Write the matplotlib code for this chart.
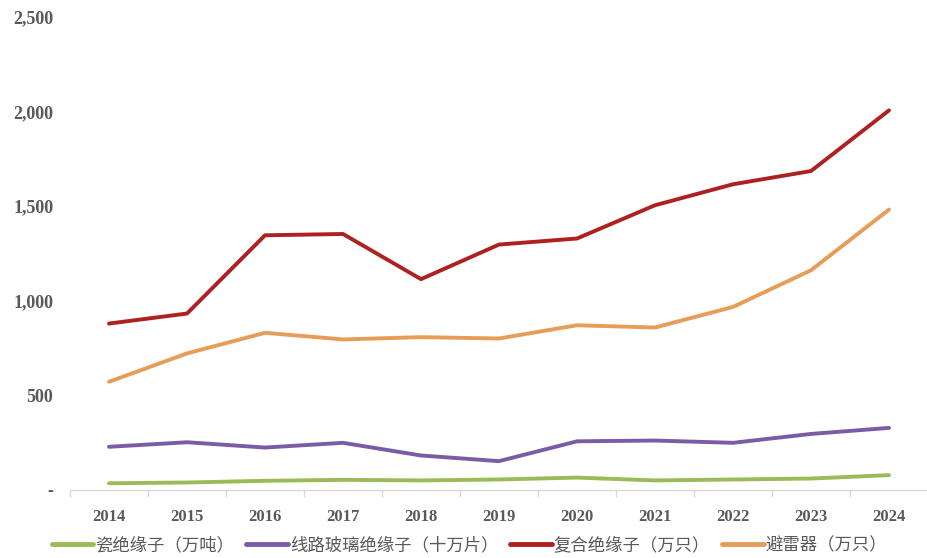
import matplotlib
matplotlib.use("Agg")
import matplotlib.pyplot as plt
from matplotlib.ticker import FuncFormatter

years = ["2014", "2015", "2016", "2017", "2018", "2019", "2020", "2021", "2022", "2023", "2024"]
porcelain = [33, 37, 46, 51, 48, 53, 63, 48, 53, 58, 76]
glass = [226, 250, 222, 247, 180, 150, 255, 259, 247, 294, 326]
composite = [878, 931, 1345, 1352, 1113, 1296, 1328, 1504, 1615, 1685, 2006]
arrester = [570, 720, 829, 794, 806, 799, 869, 857, 966, 1160, 1481]

series_names = ["瓷绝缘子（万吨）", "线路玻璃绝缘子（十万片）", "复合绝缘子（万只）", "避雷器（万只）"]
colors = ["#9BBB59", "#7B5BA6", "#AD2220", "#E59D58"]
yticks = [0, 500, 1000, 1500, 2000, 2500]

serif = ["Liberation Serif", "DejaVu Serif"]
cjk = ["Noto Sans CJK SC", "DejaVu Sans"]
grey = "#595959"

fig = plt.figure(figsize=(9.28, 5.58), dpi=100)
ax = fig.add_axes([70 / 928, 1 - 489.5 / 558, 858 / 928, (489.5 - 17) / 558])

x = list(range(len(years)))
for vals, name, c in zip([porcelain, glass, composite, arrester], series_names, colors):
    ax.plot(x, vals, color=c, lw=2.8, label=name, solid_capstyle="round", solid_joinstyle="round")

ax.set_xlim(-0.5, len(years) - 0.5)
ax.set_ylim(0, 2500)
ax.set_yticks(yticks)
ax.yaxis.set_major_formatter(FuncFormatter(lambda v, p: "-" if v == 0 else f"{int(v):,}"))
ax.set_xticks(x)
ax.set_xticklabels(years)
ax.set_xticks([i - 0.5 for i in range(len(years) + 1)], minor=True)

for s in ["top", "right", "left"]:
    ax.spines[s].set_visible(False)
ax.spines["bottom"].set_color("#D9D9D9")
ax.spines["bottom"].set_linewidth(1.0)

ax.tick_params(axis="y", length=0, pad=12, labelcolor=grey)
ax.tick_params(axis="x", which="major", length=0, pad=14, labelcolor=grey)
ax.tick_params(axis="x", which="minor", length=5, color="#D9D9D9", width=1.0)
for lab in ax.get_yticklabels():
    lab.set_fontfamily(serif)
    lab.set_fontweight("bold")
    lab.set_fontsize(13)
for lab in ax.get_xticklabels():
    lab.set_fontfamily(serif)
    lab.set_fontweight("bold")
    lab.set_fontsize(12)

leg = fig.legend(loc="center", bbox_to_anchor=(0.506, 1 - 545 / 558), ncol=4, frameon=False,
                 prop={"family": cjk, "size": 12.5}, handlelength=2.4, handletextpad=0.1,
                 columnspacing=0.7)
for t in leg.get_texts():
    t.set_color(grey)
for h in leg.get_lines():
    h.set_linewidth(3.5)

fig.savefig("out.png", dpi=100)
